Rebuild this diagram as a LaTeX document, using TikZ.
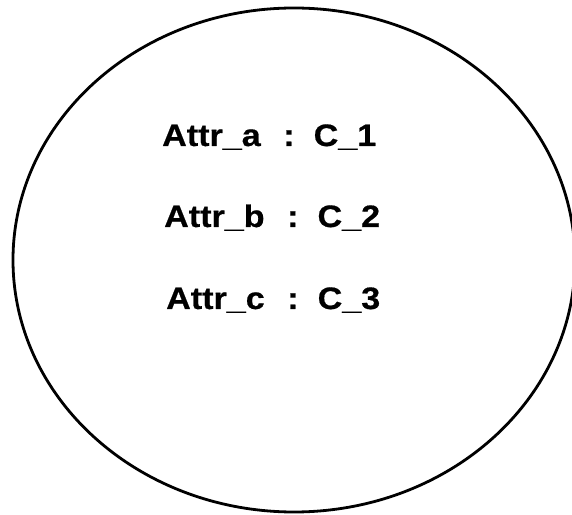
\documentclass[tikz,border=0pt]{standalone}
\usepackage{fontspec}
\setmainfont{Liberation Sans}[BoldFeatures={FakeBold=0.6}]
\usetikzlibrary{shapes.geometric}
\newcommand{\attrline}[2]{\scalebox{1.1}[1]{Attr\_#1\hspace{0.66em}:\hspace{0.56em}C\_#2}}
\begin{document}
\begin{tikzpicture}[x=1pt,y=1pt,
  lbl/.style={anchor=base west,inner sep=0pt,font=\bfseries\fontsize{31}{32}\selectfont}]
\useasboundingbox (0,0) rectangle (572,514);
\clip (0,0) rectangle (572,514);
\fill[white] (0,0) rectangle (572,514);
\node[draw,line width=2.8pt,ellipse,minimum width=562pt,minimum height=504pt,inner sep=0pt] (ell) at (294,254) {};
\node[lbl] (la) at (162,368) {\attrline{a}{1}};
\node[lbl] (lb) at (164,287) {\attrline{b}{2}};
\node[lbl] (lc) at (166,205) {\attrline{c}{3}};
\end{tikzpicture}
\end{document}
